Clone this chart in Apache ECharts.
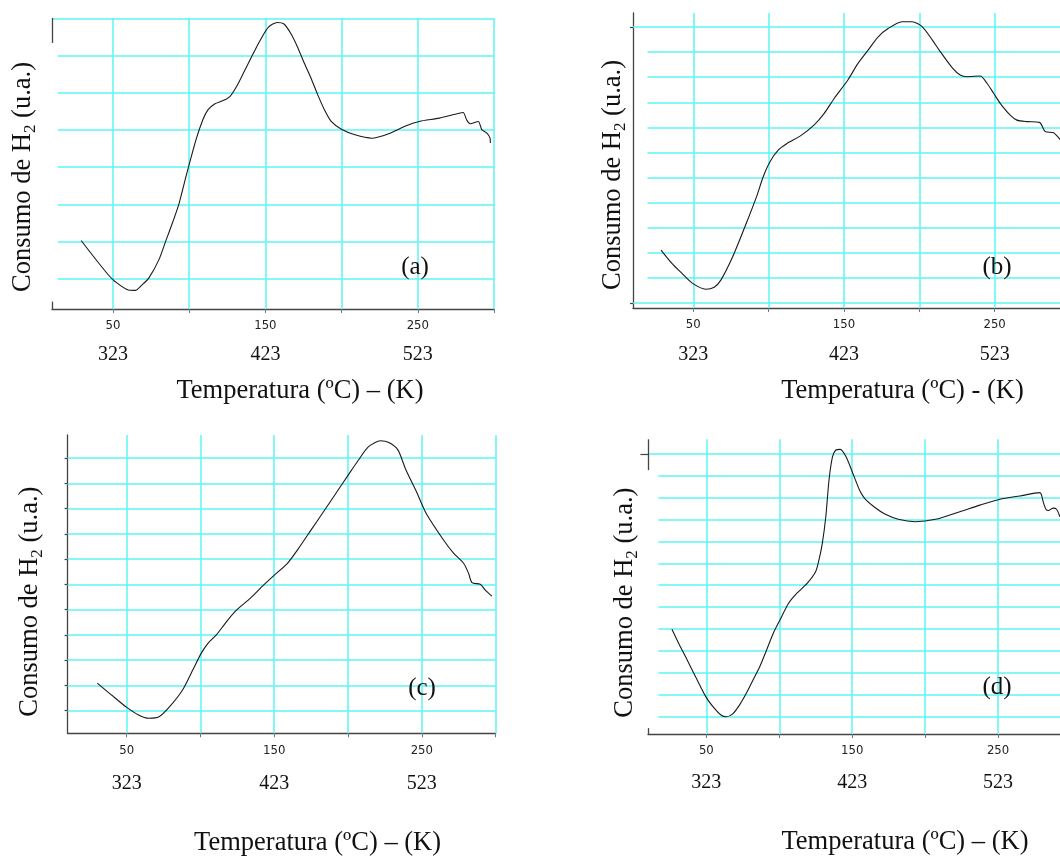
<!DOCTYPE html>
<html lang="es">
<head>
    <meta charset="UTF-8">
    <title>TPR - Consumo de H2</title>
    <script src="https://cdn.jsdelivr.net/npm/echarts@6.0.0/dist/echarts.min.js"></script>
    <style>
        body { margin: 0; background: #fff; }
        #main { width: 1060px; height: 857px; }
    </style>
</head>
<body>
<div id="main"></div>
<script type="text/javascript">
    var tempA = [29.1, 38, 46.9, 51.3, 60.1, 64.6, 69.1, 73.5, 80.1, 84.5, 89, 93.4, 97.9, 104.5, 108.9, 112.3, 116.7, 122.3, 126.7, 131.1, 135.6, 141.1, 146.7, 152.2, 157.8, 162.2, 166.6, 171, 175.5, 179.9, 184.3, 188.8, 193.2, 199.9, 208.8, 219.8, 230.9, 242, 250.9, 264.2, 273, 279.7, 282.1, 284.3, 289.7, 292, 295.2, 297.4, 297.6];
    var h2A = [2.03, 1.56, 1.11, 0.93, 0.70, 0.69, 0.84, 1.02, 1.51, 2.0, 2.5, 3.03, 3.75, 4.74, 5.27, 5.54, 5.70, 5.79, 5.90, 6.17, 6.53, 6.98, 7.42, 7.77, 7.89, 7.85, 7.60, 7.24, 6.80, 6.40, 5.95, 5.54, 5.23, 5.02, 4.87, 4.78, 4.90, 5.11, 5.23, 5.32, 5.41, 5.47, 5.27, 5.17, 5.23, 5.01, 4.92, 4.78, 4.65];

    var tempB = [28.6, 35.8, 42.5, 49.3, 58.3, 63.9, 68.4, 76.2, 85.2, 92, 96.4, 100.9, 106.5, 112.2, 121.1, 130.1, 136.9, 143.6, 152.6, 159.3, 166, 172.7, 179.5, 188.5, 195.2, 202, 208.7, 213.2, 222.2, 227.1, 231.6, 240.4, 244.9, 249.3, 253.7, 260.3, 264.8, 271.4, 279.8, 283.6, 289.1, 291.4, 293.6];
    var h2B = [2.11, 1.58, 1.18, 0.79, 0.55, 0.63, 0.92, 1.85, 3.18, 4.24, 5.03, 5.63, 6.10, 6.36, 6.66, 7.09, 7.56, 8.16, 8.89, 9.55, 10.08, 10.61, 10.95, 11.21, 11.21, 11.01, 10.48, 10.08, 9.35, 9.09, 9.02, 9.05, 8.76, 8.36, 7.96, 7.49, 7.29, 7.23, 7.2, 6.83, 6.79, 6.66, 6.5];

    var tempC = [30.1, 39.8, 50.1, 58.1, 65, 71.9, 78.7, 87.9, 94.8, 100.5, 105.1, 110.8, 117.7, 124.6, 133.7, 142.9, 150.3, 159, 165.8, 175, 184.2, 193.3, 200.2, 207.1, 213.9, 222, 227.7, 233.8, 239.2, 246.3, 252.9, 264.7, 271.5, 278.3, 281.7, 284, 289.6, 293, 297.5];
    var h2C = [2.09, 1.62, 1.13, 0.83, 0.70, 0.76, 1.13, 1.82, 2.61, 3.27, 3.67, 4.00, 4.53, 4.99, 5.45, 5.98, 6.38, 6.84, 7.37, 8.16, 8.95, 9.74, 10.34, 10.93, 11.46, 11.69, 11.62, 11.33, 10.54, 9.68, 8.82, 7.76, 7.24, 6.84, 6.44, 6.07, 6.01, 5.78, 5.54];

    var tempD = [26.4, 31, 35.7, 42.6, 49.6, 55.4, 60, 63.5, 68.1, 72.8, 77.4, 82, 86.6, 91.3, 95.9, 100.5, 106.4, 112.1, 119.1, 124.9, 127.2, 129.5, 131.9, 134.1, 136.5, 138.8, 141.8, 145.7, 150.4, 155, 158.5, 165.4, 172.4, 181.6, 193.2, 207.1, 223.8, 237.6, 251.3, 265, 278.7, 279.8, 280.9, 282.8, 284.4, 287.8, 290.1, 292.4];
    var h2D = [3.98, 3.34, 2.73, 1.81, 0.90, 0.37, 0.06, -0.02, 0.11, 0.52, 1.05, 1.66, 2.27, 3.03, 3.80, 4.41, 5.17, 5.63, 6.08, 6.61, 7.15, 7.91, 9.13, 10.81, 11.88, 12.18, 12.21, 11.88, 11.12, 10.35, 9.97, 9.56, 9.25, 9.01, 8.90, 9.01, 9.36, 9.66, 9.93, 10.08, 10.23, 10.12, 9.82, 9.47, 9.41, 9.52, 9.47, 9.13];

    // ejes
    var tickValues = [50, 100, 150, 200, 250, 300];
    var celsiusLabels = [50, 150, 250];
    var kelvinLabels = [323, 423, 523];
    var rowsA = [1, 2, 3, 4, 5, 6, 7, 8];
    var rowsB = [0, 1, 2, 3, 4, 5, 6, 7, 8, 9, 10, 11];
    var rowsC = [1, 2, 3, 4, 5, 6, 7, 8, 9, 10, 11];
    var rowsD = [0, 1, 2, 3, 4, 5, 6, 7, 8, 9, 10, 11, 12];

    var SERIF = '"Liberation Serif", "Times New Roman", serif';
    var NARROW = '"Liberation Sans Narrow", "DejaVu Sans Condensed", sans-serif';
    var cyan = { color: '#5ef4f4', width: 1.5, type: 'solid' };
    var axisStyle = { color: '#444', width: 1.3, type: 'solid' };

    var panels = [
        { t: tempA, v: h2A, rows: rowsA, full: [8], rowStart: 13.8,
          left: 52, top: 18, width: 442, height: 291, yMin: 0.19, yMax: 8.01,
          yLine: false, ySegs: [[0.19, 0.39], [7.34, 8.01]], yTicks: [], tickLen: 0,
          xName: 'Temperatura (ºC) – (K)', xGap: 69, xPad: 54, yGap: 13, yPad: 27,
          margin: 10, kLine: 44, tag: '(a)', tagX: 415, tagY: 267 },
        { t: tempB, v: h2B, rows: rowsB, full: [0, 11], rowStart: 19.6,
          left: 633, top: 13, width: 437, height: 295, yMin: -0.2, yMax: 11.56,
          yLine: true, ySegs: [], yTicks: [0, 11], tickLen: 3,
          xName: 'Temperatura (ºC) - (K)', xGap: 70, xPad: 102, yGap: 4, yPad: 29,
          margin: 10, kLine: 46, tag: '(b)', tagX: 997, tagY: 267 },
        { t: tempC, v: h2C, rows: rowsC, full: rowsC, rowStart: 10,
          left: 67.6, top: 435, width: 428, height: 298.3, yMin: 0.105, yMax: 11.92,
          yLine: true, ySegs: [], yTicks: rowsC, tickLen: 3,
          xName: 'Temperatura (ºC) – (K)', xGap: 96, xPad: 72, yGap: 22, yPad: 35,
          margin: 10.5, kLine: 51, tag: '(c)', tagX: 422, tagY: 688 },
        { t: tempD, v: h2D, rows: rowsD, full: [12], rowStart: 17.1,
          left: 648, top: 439.3, width: 423, height: 294.7, yMin: -0.81, yMax: 12.67,
          yLine: false, ySegs: [[-0.81, -0.54], [11.26, 12.67]], yTicks: [12], tickLen: 7.6,
          xName: 'Temperatura (ºC) – (K)', xGap: 95, xPad: 91, yGap: 7, yPad: 32,
          margin: 10, kLine: 50, tag: '(d)', tagX: 997, tagY: 687 }
    ];

    var grids = [], xAxes = [], yAxes = [], series = [], graphics = [];

    panels.forEach(function (p, i) {
        grids.push({ left: p.left, top: p.top, width: p.width, height: p.height, outerBoundsMode: 'none' });

        xAxes.push({
            gridIndex: i, type: 'value', min: 10, max: 300,
            axisLine: { onZero: false, lineStyle: axisStyle },
            axisTick: { customValues: tickValues, length: 4, lineStyle: { color: '#777', width: 1 } },
            axisLabel: {
                customValues: celsiusLabels, margin: p.margin,
                formatter: function (val) {
                    return '{c|' + val + '}\n{k|' + kelvinLabels[celsiusLabels.indexOf(val)] + '}';
                },
                rich: {
                    c: { fontFamily: NARROW, fontSize: 13, lineHeight: 14, color: '#222' },
                    k: { fontFamily: SERIF, fontSize: 20, lineHeight: p.kLine, color: '#111' }
                }
            },
            splitLine: { show: false },
            name: p.xName, nameLocation: 'middle', nameGap: p.xGap, nameMoveOverlap: false,
            nameTextStyle: { fontFamily: SERIF, fontSize: 26.5, color: '#111', padding: [0, 0, 0, p.xPad] }
        });

        yAxes.push({
            gridIndex: i, type: 'value', min: p.yMin, max: p.yMax,
            axisLine: { show: p.yLine, onZero: false, lineStyle: axisStyle },
            axisTick: { show: p.yTicks.length > 0, customValues: p.yTicks, length: p.tickLen, lineStyle: { color: '#444', width: 1.2 } },
            axisLabel: { show: false },
            splitLine: { show: false },
            name: 'Consumo de H{s|2} (u.a.)', nameLocation: 'middle', nameRotate: 90,
            nameGap: p.yGap, nameMoveOverlap: false,
            nameTextStyle: {
                fontFamily: SERIF, fontSize: 26.5, lineHeight: 31, color: '#111',
                padding: [0, p.yPad, 0, 0],
                rich: { s: { fontFamily: SERIF, fontSize: 17, lineHeight: 17, verticalAlign: 'bottom', color: '#111' } }
            }
        });

        // cuadricula cian y tramos visibles del eje y
        var marks = [];
        tickValues.forEach(function (c) { marks.push({ xAxis: c, lineStyle: cyan }); });
        p.rows.forEach(function (r) {
            var x0 = p.full.indexOf(r) >= 0 ? 10 : p.rowStart;
            marks.push([{ coord: [x0, r], lineStyle: cyan }, { coord: [300, r] }]);
        });
        p.ySegs.forEach(function (s) {
            marks.push([{ coord: [10, s[0]], lineStyle: axisStyle }, { coord: [10, s[1]] }]);
        });

        series.push({
            type: 'line', xAxisIndex: i, yAxisIndex: i, data: [], z: 1,
            silent: true, animation: false,
            markLine: {
                z: 1, silent: true, animation: false, symbol: ['none', 'none'],
                label: { show: false }, emphasis: { disabled: true },
                lineStyle: cyan, data: marks
            }
        });

        series.push({
            type: 'line', xAxisIndex: i, yAxisIndex: i, z: 3,
            data: p.t.map(function (t, k) { return [t, p.v[k]]; }),
            showSymbol: false, smooth: 0.25, silent: true, animation: false,
            lineStyle: { color: '#1a1a1a', width: 1.1 }
        });

        graphics.push({
            type: 'text', x: p.tagX, y: p.tagY, z: 10, silent: true,
            style: {
                text: p.tag, font: '25px ' + SERIF, fill: '#111',
                align: 'center', verticalAlign: 'middle',
                textAlign: 'center', textVerticalAlign: 'middle'
            }
        });
    });

    var myChart = echarts.init(document.getElementById('main'));
    myChart.setOption({
        backgroundColor: '#fff',
        animation: false,
        grid: grids,
        xAxis: xAxes,
        yAxis: yAxes,
        series: series,
        graphic: graphics
    });
</script>
</body>
</html>
